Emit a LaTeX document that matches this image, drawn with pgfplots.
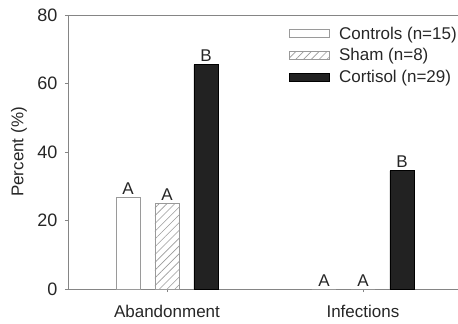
\documentclass[border=0pt]{standalone}
\usepackage{fontspec}
\setmainfont{Liberation Sans}
\usepackage{pgfplots}
\pgfplotsset{compat=1.18}
\usepackage{pgfplotstable}
\usetikzlibrary{patterns.meta}
\definecolor{axgray}{HTML}{858585}
\definecolor{bargray}{HTML}{9A9A9A}
\definecolor{darkbar}{HTML}{222222}

\pgfplotstableread{
x y lab
0 26.67 A
1 0 A
}\controls
\pgfplotstableread{
x y lab
0 25.0 A
1 0 A
}\sham
\pgfplotstableread{
x y lab
0 65.5 B
1 34.5 B
}\cortisol

\begin{document}
\begin{tikzpicture}
\begin{axis}[
  scale only axis,
  width=390pt, height=274pt,
  font=\fontsize{17}{20}\selectfont,
  /pgf/number format/assume math mode=true,
  xmin=-0.505, xmax=1.485,
  ymin=0, ymax=80,
  ytick={0,20,40,60,80},
  xtick={0,1},
  xticklabels={Abandonment,Infections},
  axis x line=box,
  axis y line*=left,
  xtick pos=bottom, ytick pos=left,
  tick align=outside,
  major tick length=3pt,
  axis line style={axgray, line width=0.8pt},
  every tick/.style={axgray, line width=0.8pt},
  ylabel={Percent (\%)},
  ylabel style={at={(axis description cs:-0.1256,0.5)}, anchor=center, text=black!85},
  xticklabel style={yshift=-10pt, text=black!85},
  yticklabel style={xshift=-4pt, font=\fontsize{18}{20}\selectfont, text=black!85},
  ybar,
  bar width=24pt,
  nodes near coords,
  point meta=explicit symbolic,
  every node near coord/.append style={font=\fontsize{17}{20}\selectfont, inner sep=2.5pt, text=black!85},
  legend style={at={(axis description cs:0.567,0.965)}, anchor=north west,
    draw=none, fill=none, inner sep=0pt, row sep=4pt,
    font=\fontsize{17}{20}\selectfont, text=black!85,
    cells={anchor=west},
    /tikz/every odd column/.style={column sep=7pt}},
  legend image code/.code={\draw[#1, /pgf/bar shift=0pt] (0pt,-4pt) rectangle (40pt,4pt);},
]
\addplot[draw=bargray, fill=white, line width=0.8pt, bar shift=-39pt]
  table[x=x, y=y, meta=lab] {\controls};
\addlegendentry{Controls (n=15)}
\addplot[draw=bargray, line width=0.8pt, pattern={Lines[angle=45,distance=5.5pt,line width=0.6pt]}, pattern color=bargray, bar shift=0pt]
  table[x=x, y=y, meta=lab] {\sham};
\addlegendentry{Sham (n=8)}
\addplot[draw=black, fill=darkbar, line width=0.8pt, bar shift=39pt]
  table[x=x, y=y, meta=lab] {\cortisol};
\addlegendentry{Cortisol (n=29)}
\end{axis}
\pgfresetboundingbox
\path[use as bounding box] (-68pt,-35pt) rectangle (390pt,289pt);
\end{tikzpicture}
\end{document}
